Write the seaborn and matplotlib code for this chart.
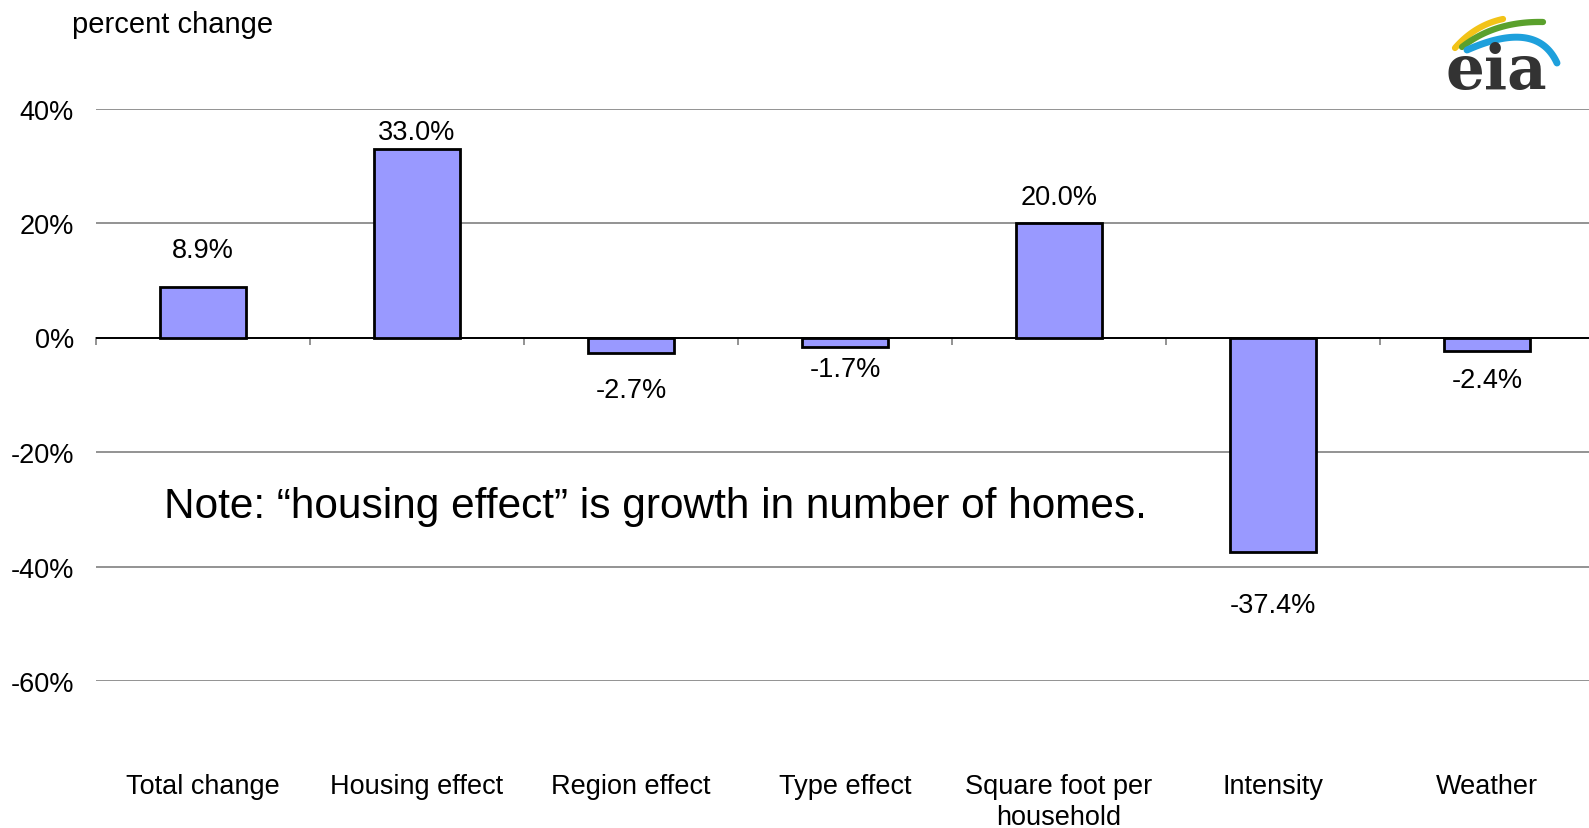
import numpy as np
import matplotlib
matplotlib.use('Agg')
import matplotlib.pyplot as plt
import seaborn as sns

# data
categories = ['Total change', 'Housing effect', 'Region effect', 'Type effect',
              'Square foot per\nhousehold', 'Intensity', 'Weather']
values = [8.9, 33.0, -2.7, -1.7, 20.0, -37.4, -2.4]
y_ticks = [-60, -40, -20, 0, 20, 40]
y_labels = ['-60%', '-40%', '-20%', '0%', '20%', '40%']
# distance of each value label from the bar end (pixels), as placed in the original
label_gap = [37, 17, 37, 22, 26, 53, 29]

sns.set_style('white')
plt.rcParams['font.family'] = ['Liberation Sans', 'DejaVu Sans']
plt.rcParams['text.color'] = 'black'

W, H = 1589, 829
fig = plt.figure(figsize=(W / 100, H / 100), dpi=100)
ax = fig.add_axes([96 / W, 1 - 682 / H, 7 * 214 / W, (682 - 109.5) / H])

sns.barplot(x=list(range(len(values))), y=values, color='#9999FF', saturation=1,
            edgecolor='black', linewidth=2, width=0.4, ax=ax, zorder=3)

ax.set_xlim(-0.5, 6.5)
ax.set_ylim(-60, 40)
ax.set_yticks(y_ticks)
ax.set_yticklabels(y_labels)
ax.yaxis.grid(True, color='#8a8a8a', lw=1.3)
ax.set_axisbelow(True)
for s in ax.spines.values():
    s.set_visible(False)
ax.tick_params(axis='y', length=0, pad=16, labelsize=19.5, labelcolor='black')

ax.set_xticks(range(len(categories)))
ax.set_xticklabels(categories, fontsize=19.5, color='black', linespacing=1.25)
ax.tick_params(axis='x', length=0, pad=66)
ax.set_xlabel('')

# zero axis with category-boundary ticks (pointing down)
ax.axhline(0, color='black', lw=1.4, zorder=2.5)
sec = ax.secondary_xaxis(0.6)
sec.set_xticks(np.arange(-0.5, len(categories) - 0.5, 1.0))
sec.set_xticklabels([])
sec.tick_params(axis='x', direction='in', length=6, width=1.3, color='#8a8a8a')
for s in sec.spines.values():
    s.set_visible(False)

# value labels
for i, v in enumerate(values):
    off = label_gap[i] * 0.72 * (1 if v >= 0 else -1)
    ax.annotate(f'{v:.1f}%', xy=(i, v), xytext=(0, off), textcoords='offset points',
                ha='center', va='center', fontsize=19.5, color='black')

fig.text(72 / W, 1 - 25 / H, 'percent change', fontsize=21, va='center', ha='left')
fig.text(164 / W, 1 - 507 / H, 'Note: \u201chousing effect\u201d is growth in number of homes.',
         fontsize=30.5, va='center', ha='left')

# eia logo
lax = fig.add_axes([1440 / W, 1 - 92 / H, 125 / W, 80 / H])
lax.set_xlim(0, 125)
lax.set_ylim(80, 0)
lax.axis('off')


def bez(p0, p1, p2):
    t = np.linspace(0, 1, 60)[:, None]
    pts = (1 - t) ** 2 * np.array(p0) + 2 * (1 - t) * t * np.array(p1) + t ** 2 * np.array(p2)
    return pts[:, 0], pts[:, 1]


lax.plot(*bez((15, 37), (35, 14), (63, 8)), color='#f2c318', lw=4.5, solid_capstyle='round')
lax.plot(*bez((22, 36), (55, 10), (103, 11)), color='#5aa02c', lw=4.5, solid_capstyle='round')
lax.plot(*bez((27, 39), (97, 8), (117, 52)), color='#1ea0dc', lw=5, solid_capstyle='round')
lax.text(56, 60, 'eia', fontsize=44, fontweight='bold', family='DejaVu Serif',
         color='#333333', ha='center', va='center')

fig.savefig('out.png', dpi=100)
